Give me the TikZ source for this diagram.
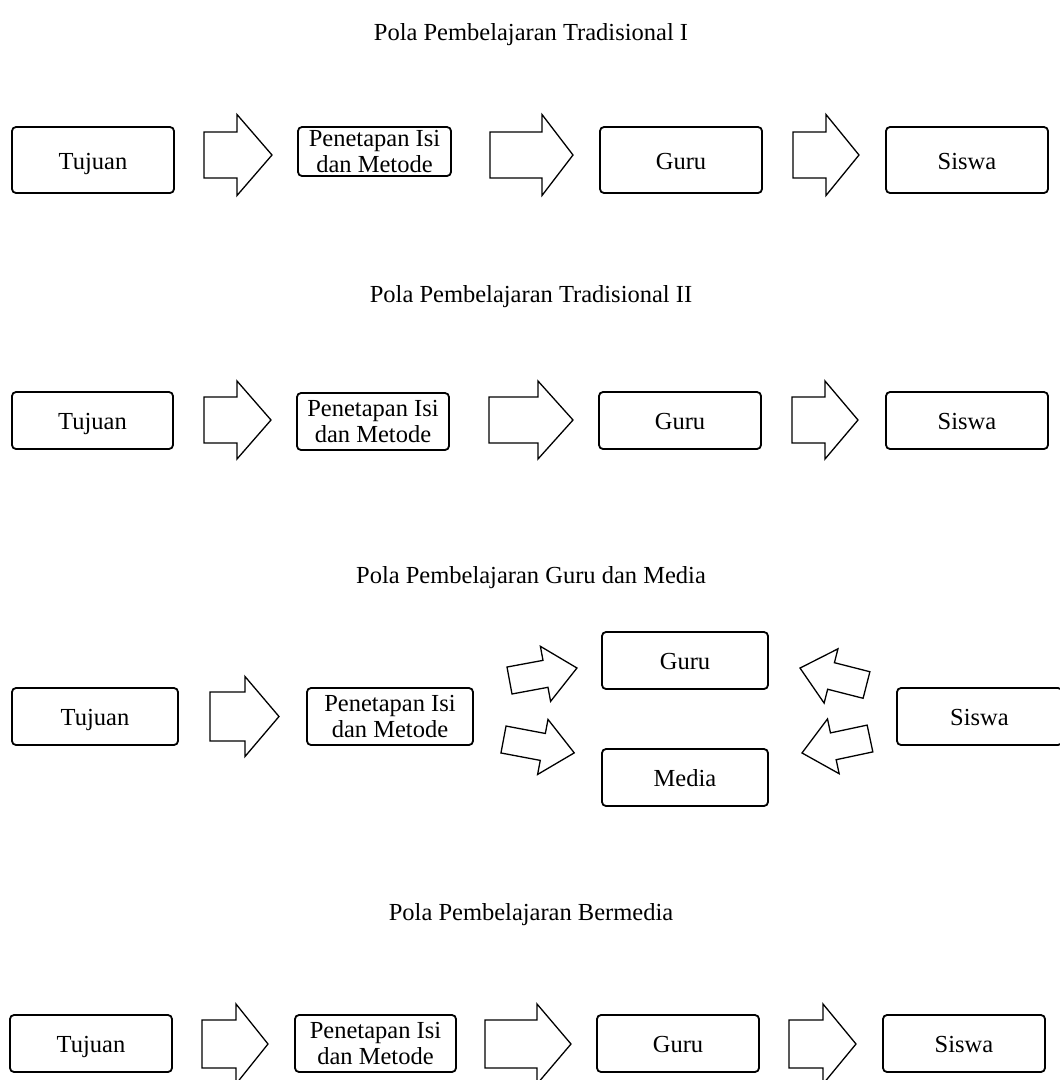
\documentclass[tikz,border=0pt]{standalone}
\usepackage{fontspec}
\setmainfont{Liberation Serif}
\newcommand\blockarrow[7]{%
  \draw[barrow, shift={(#1,#2)}, rotate=#3]
    (0,-#5) -- ({#4-#7},-#5) -- ({#4-#7},-#6) -- (#4,0) --
    ({#4-#7},#6) -- ({#4-#7},#5) -- (0,#5) -- cycle;}
\begin{document}
\begin{tikzpicture}[x=1pt,y=-1pt,
  box/.style={draw, rounded corners=4pt, line width=1.8pt, inner sep=0pt,
    font=\fontsize{24.5}{26.5}\selectfont, align=center},
  one/.style={text height=18pt, text depth=0pt},
  barrow/.style={draw, line width=1.3pt, line join=miter},
  ttl/.style={font=\fontsize{24.5}{28}\selectfont, inner sep=0pt}]
\useasboundingbox (0,0) rectangle (1060,1080);

% ---------- Row 1 ----------
\node[ttl] (t1) at (531,35) {Pola Pembelajaran Tradisional I};
\node[box, one, minimum width=162pt, minimum height=66pt] (a1) at (93,160) {Tujuan};
\node[box, minimum width=153pt, minimum height=49pt] (b1) at (374.5,151.5) {Penetapan Isi\\dan Metode};
\node[box, one, minimum width=162pt, minimum height=66pt] (c1) at (681,160) {Guru};
\node[box, one, minimum width=162pt, minimum height=66pt] (d1) at (967,160) {Siswa};
\blockarrow{204}{155}{0}{68}{23}{40.5}{35}
\blockarrow{490}{155}{0}{83}{23}{40.5}{31}
\blockarrow{793}{155}{0}{66}{23}{40.5}{33}

% ---------- Row 2 ----------
\node[ttl] (t2) at (531,297) {Pola Pembelajaran Tradisional II};
\node[box, one, minimum width=161pt, minimum height=57pt] (a2) at (92.5,420.5) {Tujuan};
\node[box, minimum width=152pt, minimum height=57pt] (b2) at (373,421.5) {Penetapan Isi\\dan Metode};
\node[box, one, minimum width=162pt, minimum height=57pt] (c2) at (680,420.5) {Guru};
\node[box, one, minimum width=162pt, minimum height=57pt] (d2) at (967,420.5) {Siswa};
\blockarrow{204}{420}{0}{67}{23}{39}{34}
\blockarrow{489}{420}{0}{84}{23}{39}{35}
\blockarrow{792}{420}{0}{66}{23}{39}{33}

% ---------- Row 3 ----------
\node[ttl] (t3) at (531,578) {Pola Pembelajaran Guru dan Media};
\node[box, one, minimum width=166pt, minimum height=57pt] (a3) at (95,716.5) {Tujuan};
\node[box, minimum width=166pt, minimum height=57pt] (b3) at (390,716.5) {Penetapan Isi\\dan Metode};
\node[box, one, minimum width=166pt, minimum height=57pt] (c3) at (685,660.5) {Guru};
\node[box, one, minimum width=166pt, minimum height=57pt] (m3) at (685,777.5) {Media};
\node[box, one, minimum width=165pt, minimum height=57pt] (d3) at (979.5,716.5) {Siswa};
\blockarrow{210}{716.5}{0}{69}{24.5}{40}{34}
\blockarrow{509.5}{680.5}{10.5}{68.6}{13.7}{28}{32}
\blockarrow{503.5}{739.5}{-10.7}{72}{13.7}{28}{32}
\blockarrow{866.5}{685}{165.7}{68.6}{13.7}{28}{32}
\blockarrow{870}{738.5}{192}{69.5}{13.7}{28}{32}

% ---------- Row 4 ----------
\node[ttl] (t4) at (531,915) {Pola Pembelajaran Bermedia};
\node[box, one, minimum width=162pt, minimum height=57pt] (a4) at (91,1043.5) {Tujuan};
\node[box, minimum width=161pt, minimum height=57pt] (b4) at (375.5,1043.5) {Penetapan Isi\\dan Metode};
\node[box, one, minimum width=162pt, minimum height=57pt] (c4) at (678,1043.5) {Guru};
\node[box, one, minimum width=162pt, minimum height=57pt] (d4) at (964,1043.5) {Siswa};
\blockarrow{202}{1044}{0}{66}{24}{40}{32}
\blockarrow{485}{1044}{0}{86}{24}{40}{34}
\blockarrow{789}{1044}{0}{67}{24}{40}{33}
\end{tikzpicture}
\end{document}
